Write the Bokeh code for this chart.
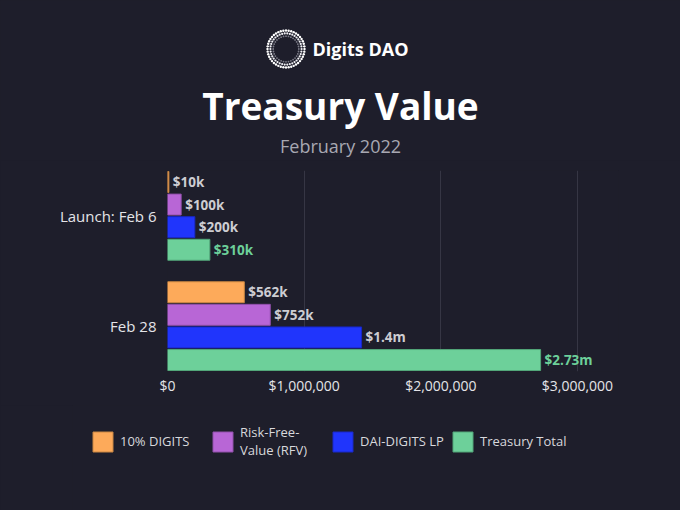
import numpy as np
from bokeh.plotting import figure
from bokeh.layouts import column
from bokeh.models import (ColumnDataSource, Range1d, FixedTicker, Legend, LegendItem, Label)
from bokeh.core.properties import value
from bokeh.embed import file_html
from bokeh.resources import INLINE

# ---------------- data ----------------
groups = ["Launch: Feb 6", "Feb 28"]
series = ["10% DIGITS", "Risk-Free-\nValue (RFV)", "DAI-DIGITS LP", "Treasury Total"]
colors = ["#fdaa5a", "#b866d6", "#2035fc", "#6dd09a"]
edge_colors = ["#c98642", "#9150ab", "#1828c8", "#52a679"]
values_launch = [10_000, 100_000, 200_000, 310_000]
values_feb28 = [562_000, 752_000, 1_420_000, 2_730_000]
labels_launch = ["$10k", "$100k", "$200k", "$310k"]
labels_feb28 = ["$562k", "$752k", "$1.4m", "$2.73m"]
x_ticks = [0, 1_000_000, 2_000_000, 3_000_000]
x_tick_labels = ["$0", "$1,000,000", "$2,000,000", "$3,000,000"]
title = "Treasury Value"
subtitle = "February 2022"
brand = "Digits DAO"

BG = "#1e1e2b"
FONT = "Open Sans"
W = 680

def blank(fig):
    fig.background_fill_color = BG
    fig.border_fill_color = BG
    fig.outline_line_color = None
    fig.axis.visible = False
    fig.grid.visible = False

# ---------------- header ----------------
HH = 160
hdr = figure(width=W, height=HH, output_backend="svg", toolbar_location=None,
             x_range=Range1d(0, W), y_range=Range1d(HH, 0), frame_align=False,
             min_border=0, min_border_left=0, min_border_right=0,
             min_border_top=0, min_border_bottom=0)
blank(hdr)

def lab(fig, text, x, y, size, color, style="normal", align="center"):
    fig.add_layout(Label(x=x, y=y, text=text, text_font=FONT, text_font_size=size,
                         text_font_style=style, text_color=color,
                         text_align=align, text_baseline="middle"))

lab(hdr, title, 340, 105, "37px", "#ffffff", "bold")
lab(hdr, subtitle, 340, 145, "18px", "#a8a8b2")
lab(hdr, brand, 312, 48, "18px", "#ffffff", "bold", "left")

# logo: dotted rings
cx, cy = 285.5, 48.5
for rad, n, col, sz in [(18.5, 44, "#ffffff", 2.4), (15.6, 38, "#f0f0f4", 2.2), (12.8, 32, "#7c7c88", 1.8)]:
    t = np.linspace(0, 2 * np.pi, n, endpoint=False)
    hdr.scatter(cx + rad * np.cos(t), cy + rad * np.sin(t), size=sz, marker="circle",
                fill_color=col, line_color=None)

# ---------------- main chart ----------------
MH = 245
group_pos = {"Launch: Feb 6": 1.0, "Feb 28": 0.0}
step = 0.205
bar_h = 0.19

p = figure(width=W, height=MH, output_backend="svg", toolbar_location=None,
           x_range=Range1d(0, 3_300_000), y_range=Range1d(-0.4115, 1.4115),
           frame_align=False,
           min_border_left=167, min_border_right=62, min_border_top=10,
           min_border_bottom=34)
p.background_fill_color = BG
p.border_fill_color = BG
p.outline_line_color = None

vals_by_group = {"Launch: Feb 6": values_launch, "Feb 28": values_feb28}
labs_by_group = {"Launch: Feb 6": labels_launch, "Feb 28": labels_feb28}

for j, s in enumerate(series):
    ys = [group_pos[g] + (1.5 - j) * step for g in groups]
    xs = [vals_by_group[g][j] for g in groups]
    txt = [labs_by_group[g][j] for g in groups]
    src = ColumnDataSource(dict(y=ys, right=xs, txt=txt))
    p.hbar(y="y", left=0, right="right", height=bar_h, source=src,
           fill_color=colors[j], line_color=edge_colors[j], line_width=1)
    p.text(x="right", y="y", text="txt", source=src, x_offset=4,
           text_baseline="middle", text_align="left",
           text_font=value(FONT), text_font_style="bold", text_font_size="13.5px",
           text_color=("#6dd09a" if j == 3 else "#cdcdd2"))

p.xaxis.ticker = FixedTicker(ticks=x_ticks)
p.xaxis.major_label_overrides = {t: l for t, l in zip(x_ticks, x_tick_labels)}
p.yaxis.ticker = FixedTicker(ticks=[group_pos[g] for g in groups])
p.yaxis.major_label_overrides = {group_pos[g]: g for g in groups}
for ax in (p.xaxis, p.yaxis):
    ax.axis_line_color = None
    ax.major_tick_line_color = None
    ax.major_tick_out = 0
    ax.major_tick_in = 0
    ax.minor_tick_line_color = None
    ax.major_label_text_font = FONT
    ax.major_label_text_color = "#e4e4e8"
p.xaxis.major_label_text_font_size = "14px"
p.yaxis.major_label_text_font_size = "15px"
p.xaxis.major_label_standoff = 4
p.yaxis.major_label_standoff = 11
p.xgrid.ticker = FixedTicker(ticks=x_ticks)
p.xgrid.grid_line_color = "#363644"
p.ygrid.grid_line_color = None

# ---------------- legend ----------------
LH = 510 - HH - MH
lg = figure(width=W, height=LH, output_backend="svg", toolbar_location=None,
            x_range=Range1d(0, 1), y_range=Range1d(10, 11), frame_align=False,
            min_border_left=72, min_border_right=0, min_border_top=0, min_border_bottom=0)
blank(lg)
items = []
for j, s in enumerate(series):
    src = ColumnDataSource(dict(y=[0.0], right=[1.0]))
    r = lg.hbar(y="y", left=0, right="right", height=0.5, source=src,
                fill_color=colors[j], line_color=edge_colors[j], line_width=1)
    items.append(LegendItem(label=s, renderers=[r]))
legend = Legend(items=items, orientation="horizontal", location="top_left",
                glyph_width=25, glyph_height=25, label_standoff=5, label_width=84,
                spacing=6, padding=0, margin=18, border_line_color=None,
                background_fill_alpha=0, label_text_font=FONT,
                label_text_font_size="13px", label_text_color="#d8d8dc")
lg.add_layout(legend, "center")

layout = column(hdr, p, lg, spacing=0)
html = file_html(layout, INLINE)
html = html.replace("<head>", "<head><style>html, body {background: #1e1e2b;}</style>", 1)
open("out.html", "w").write(html)
